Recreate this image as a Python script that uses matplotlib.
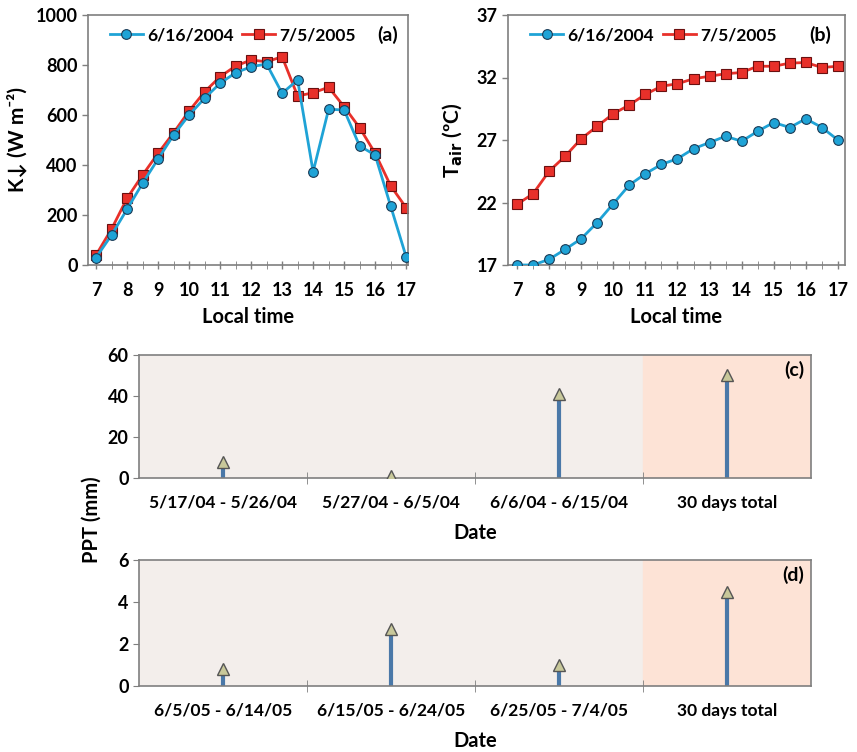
import numpy as np
import matplotlib.pyplot as plt

plt.rcParams['font.family'] = ['Lato', 'DejaVu Sans']
plt.rcParams['font.weight'] = 'bold'

# время (часы)
hours = np.arange(7, 17.01, 0.5)

# (a) падающая коротковолновая радиация, W m-2
k_2004 = [30, 120, 223, 327, 424, 520, 600, 667, 727, 769, 793, 804,
          687, 740, 373, 623, 620, 476, 440, 236, 33]
k_2005 = [40, 144, 267, 360, 447, 529, 616, 693, 753, 796, 820, 813,
          833, 676, 689, 711, 633, 549, 447, 317, 229]

# (b) температура воздуха, C
t_2004 = [17.0, 17.0, 17.45, 18.25, 19.1, 20.4, 21.9, 23.4, 24.3, 25.05, 25.5,
          26.3, 26.8, 27.3, 26.9, 27.7, 28.4, 28.0, 28.7, 28.0, 27.0]
t_2005 = [21.85, 22.7, 24.5, 25.7, 27.1, 28.1, 29.1, 29.8, 30.65, 31.3, 31.5,
          31.9, 32.1, 32.3, 32.4, 32.9, 32.9, 33.15, 33.2, 32.8, 32.9]

# (c), (d) осадки
dates_c = ['5/17/04 - 5/26/04', '5/27/04 - 6/5/04', '6/6/04 - 6/15/04', '30 days total']
ppt_c = [8, 1, 41, 50]
dates_d = ['6/5/05 - 6/14/05', '6/15/05 - 6/24/05', '6/25/05 - 7/4/05', '30 days total']
ppt_d = [0.8, 2.7, 1.0, 4.5]

blue = '#1fa3d6'
red = '#e8302a'
spine_c = '#7f7f7f'

fig = plt.figure(figsize=(8.57, 7.52), dpi=100)
W, H = 857, 752


def box(l, t, r, b):
    return [l / W, 1 - b / H, (r - l) / W, (b - t) / H]


def style_line_ax(ax):
    for s in ax.spines.values():
        s.set_color(spine_c)
        s.set_linewidth(1.2)
    ax.tick_params(labelsize=13, colors='black', width=1, color=spine_c, length=4)
    ax.set_xticks(range(7, 18))
    ax.set_xticks(np.arange(7.5, 17, 1), minor=True)
    ax.tick_params(axis='x', which='both', direction='inout', length=6, color=spine_c, pad=9)
    ax.tick_params(axis='y', direction='out', length=4)
    ax.set_xlabel('Local time', fontsize=14.5, fontweight='bold', labelpad=6)


def draw_series(ax, y1, y2):
    ax.plot(hours, y1, color=blue, lw=2, marker='o', ms=7,
            mfc=blue, mec='#1a3a55', mew=0.8, label='6/16/2004', zorder=3)
    ax.plot(hours, y2, color=red, lw=2, marker='s', ms=7,
            mfc=red, mec='#6a1010', mew=0.8, label='7/5/2005', zorder=2)
    ax.legend(loc='upper left', bbox_to_anchor=(0.03, 1.0), ncol=2, frameon=False,
              fontsize=12.5, handlelength=1.9, columnspacing=0.5, handletextpad=0.25,
              borderaxespad=0.3)


# ---- (a)
ax_a = fig.add_axes(box(88, 15, 408, 265))
draw_series(ax_a, k_2004, k_2005)
ax_a.set_xlim(6.74, 17.06)
ax_a.set_ylim(0, 1000)
ax_a.set_yticks(range(0, 1001, 200))
style_line_ax(ax_a)
ax_a.set_ylabel('K\u2193 (W m\u207b\u00b2)', fontsize=15, fontweight='bold', labelpad=6)
ax_a.text(0.97, 0.92, '(a)', transform=ax_a.transAxes, ha='right', va='center',
          fontsize=14, fontweight='bold')

# ---- (b)
ax_b = fig.add_axes(box(508, 15, 845, 265))
draw_series(ax_b, t_2004, t_2005)
ax_b.set_xlim(6.72, 17.22)
ax_b.set_ylim(17, 37)
ax_b.set_yticks(range(17, 38, 5))
style_line_ax(ax_b)
ax_b.set_ylabel('T$_{\\mathbf{air}}$ (\u00baC)', fontsize=15, fontweight='bold', labelpad=8)
ax_b.text(0.96, 0.92, '(b)', transform=ax_b.transAxes, ha='right', va='center',
          fontsize=14, fontweight='bold')


def draw_ppt(ax, labels, vals, ymax, step, tag):
    x = np.arange(len(labels))
    ax.set_facecolor('#f3eeeb')
    ax.axvspan(2.5, 3.5, color='#fde3d6', zorder=0)
    ax.vlines(x, 0, vals, color='#4a78a8', lw=3, zorder=2)
    ax.plot(x, vals, ls='none', marker='^', ms=9, mfc='#c8c89a', mec='#555555',
            mew=1, zorder=3)
    ax.set_xlim(-0.5, 3.5)
    ax.set_ylim(0, ymax)
    ax.set_yticks(np.arange(0, ymax + 0.1, step))
    ax.set_xticks(x)
    ax.set_xticklabels(labels)
    ax.set_xticks([0.5, 1.5, 2.5], minor=True)
    ax.tick_params(axis='x', which='major', length=0, pad=12, labelsize=12.5)
    ax.tick_params(axis='x', which='minor', direction='inout', length=8, color=spine_c)
    ax.tick_params(axis='y', direction='out', length=4, color=spine_c, labelsize=13)
    for s in ax.spines.values():
        s.set_color(spine_c)
        s.set_linewidth(1.2)
    ax.set_xlabel('Date', fontsize=14.5, fontweight='bold', labelpad=9)
    ax.text(0.99, 0.88, tag, transform=ax.transAxes, ha='right', va='center',
            fontsize=14, fontweight='bold')


# ---- (c)
ax_c = fig.add_axes(box(139, 355, 811, 478))
draw_ppt(ax_c, dates_c, ppt_c, 60, 20, '(c)')

# ---- (d)
ax_d = fig.add_axes(box(139, 560, 811, 686))
draw_ppt(ax_d, dates_d, ppt_d, 6, 2, '(d)')

fig.text(92 / W, 1 - 520 / H, 'PPT (mm)', rotation=90, ha='center', va='center',
         fontsize=14.5, fontweight='bold')

plt.savefig('out.png', dpi=100)
